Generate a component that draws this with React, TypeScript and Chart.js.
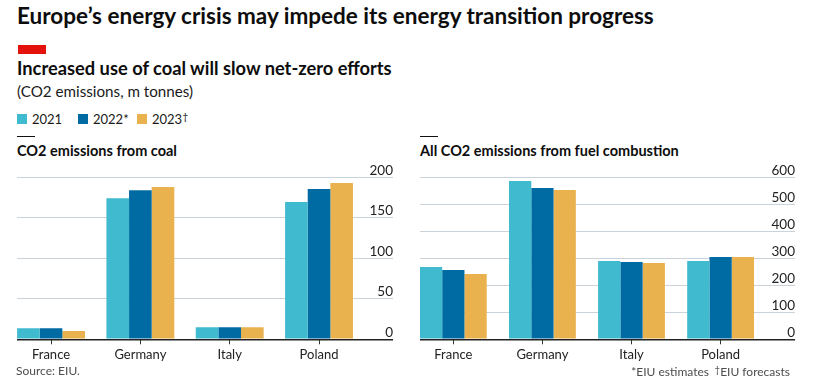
import React, { useEffect, useRef } from 'react';
import { Chart, registerables } from 'chart.js';

Chart.register(...registerables);

const countries = ['France', 'Germany', 'Italy', 'Poland'];
const years = ['2021', '2022*', '2023†'];
const coal2021 = [13.6, 174, 15, 169.5];
const coal2022 = [13.6, 184, 15, 185.5];
const coal2023 = [10.2, 188, 15, 193];
const total2021 = [268, 586, 290, 290];
const total2022 = [257, 560, 286, 305];
const total2023 = [242, 553, 283, 305];
const coalTicks = [0, 50, 100, 150, 200];
const totalTicks = [0, 100, 200, 300, 400, 500, 600];
const colors = ['#40BACE', '#006BA2', '#EAB24E'];

const FONT = 'Lato, "Noto Sans", sans-serif';
Chart.defaults.font.family = FONT;

type PanelProps = {
  series: number[][];
  ticks: number[];
  xMin: number;
  xMax: number;
  catPct: number;
  left: number;
  width: number;
  padLeft: number;
  padRight: number;
};

function BarPanel(p: PanelProps) {
  const ref = useRef<HTMLCanvasElement>(null);
  useEffect(() => {
    if (!ref.current) return;
    const chart = new Chart(ref.current, {
      type: 'bar',
      data: {
        datasets: p.series.map((vals, si) => ({
          label: years[si],
          data: vals.map((v, i) => ({ x: i, y: v })),
          backgroundColor: colors[si],
          borderWidth: 0,
          barPercentage: 1,
          categoryPercentage: p.catPct,
        })),
      },
      options: {
        animation: false,
        responsive: false,
        devicePixelRatio: 1,
        layout: { padding: { top: 27.3, left: p.padLeft, right: p.padRight, bottom: 0 } },
        plugins: { legend: { display: false }, tooltip: { enabled: false } },
        scales: {
          x: {
            type: 'linear',
            bounds: 'data',
            offset: false,
            min: p.xMin,
            max: p.xMax,
            afterBuildTicks: (s: any) => {
              s.ticks = countries.map((_, i) => ({ value: i }));
            },
            afterFit: (s: any) => {
              s.height = 44.7;
            },
            grid: { offset: false, drawOnChartArea: false, drawTicks: true, tickLength: 5, color: '#333', lineWidth: 1 },
            border: { display: false },
            ticks: {
              autoSkip: false,
              maxRotation: 0,
              padding: 3,
              color: '#222',
              font: { size: 13 },
              callback: (v: any) => countries[v as number] ?? '',
            },
          },
          y: {
            position: 'right',
            min: 0,
            max: p.ticks[p.ticks.length - 1],
            afterBuildTicks: (s: any) => {
              s.ticks = p.ticks.map((v) => ({ value: v }));
            },
            grid: {
              drawTicks: false,
              color: (c: any) => (c.tick && c.tick.value === 0 ? '#222' : '#C9D3D9'),
              lineWidth: (c: any) => (c.tick && c.tick.value === 0 ? 1.5 : 1),
            },
            border: { display: false },
            ticks: {
              mirror: true,
              padding: 0,
              labelOffset: -7,
              color: '#222',
              font: { size: 13.5 },
              callback: (v: any) => String(v),
            },
          },
        },
      },
    } as any);
    return () => chart.destroy();
  }, []);
  return (
    <canvas
      ref={ref}
      width={p.width}
      height={234}
      style={{ position: 'absolute', left: p.left, top: 150, width: p.width, height: 234 }}
    />
  );
}

function T(props: { x?: number; right?: number; base: number; size: number; bold?: boolean; color?: string; children: React.ReactNode }) {
  const top = props.base - 0.887 * props.size;
  return (
    <div
      style={{
        position: 'absolute',
        left: props.x,
        right: props.right,
        top,
        fontSize: props.size,
        lineHeight: `${props.size}px`,
        fontWeight: props.bold ? 700 : 400,
        color: props.color ?? '#0d0d0d',
        whiteSpace: 'nowrap',
        fontFamily: FONT,
      }}
    >
      {props.children}
    </div>
  );
}

// render a label, raising a trailing dagger like a superscript
function withDagger(s: string) {
  if (!s.includes('†')) return s;
  const parts = s.split('†');
  return (
    <>
      {parts[0]}
      <span style={{ fontSize: '0.8em', position: 'relative', top: '-0.35em' }}>†</span>
      {parts[1]}
    </>
  );
}

const legendX = [[17, 32], [78, 93], [137, 152]];

export default function App() {
  return (
    <div style={{ position: 'absolute', left: 0, top: 0, width: 827, height: 384, background: '#fff', overflow: 'hidden', fontFamily: FONT }}>
      <T x={17} base={24.5} size={22.5} bold>
        Europe’s energy crisis may impede its energy transition progress
      </T>
      <div style={{ position: 'absolute', left: 18, top: 45, width: 28, height: 9, background: '#E3120B' }} />
      <T x={17} base={75.7} size={18.3} bold>
        Increased use of coal will slow net-zero efforts
      </T>
      <T x={17} base={97.7} size={15.2} color="#1a1a1a">
        (CO2 emissions, m tonnes)
      </T>
      {years.map((y, i) => (
        <React.Fragment key={y}>
          <div style={{ position: 'absolute', left: legendX[i][0], top: 114.3, width: 10, height: 10, background: colors[i] }} />
          <T x={legendX[i][1]} base={124.3} size={13} color="#1a1a1a">
            {withDagger(y)}
          </T>
        </React.Fragment>
      ))}
      <div style={{ position: 'absolute', left: 17, top: 136, width: 18, height: 1, background: '#111' }} />
      <div style={{ position: 'absolute', left: 420, top: 136, width: 18, height: 1, background: '#111' }} />
      <T x={17} base={156.7} size={14.5} bold>
        CO2 emissions from coal
      </T>
      <T x={420} base={156.7} size={14.5} bold>
        All CO2 emissions from fuel combustion
      </T>
      <BarPanel
        series={[coal2021, coal2022, coal2023]}
        ticks={coalTicks}
        xMin={-0.381}
        xMax={3.828}
        catPct={0.76}
        left={0}
        width={414}
        padLeft={17}
        padRight={21}
      />
      <BarPanel
        series={[total2021, total2022, total2023]}
        ticks={totalTicks}
        xMin={-0.374}
        xMax={3.835}
        catPct={0.75}
        left={414}
        width={413}
        padLeft={6}
        padRight={32}
      />
      <T x={16} base={376} size={12} color="#4d4d4d">
        Source: EIU.
      </T>
      <T right={118} base={377} size={12} color="#4d4d4d">
        *EIU estimates
      </T>
      <T right={37} base={377} size={12} color="#4d4d4d">
        {withDagger('†EIU forecasts')}
      </T>
    </div>
  );
}
